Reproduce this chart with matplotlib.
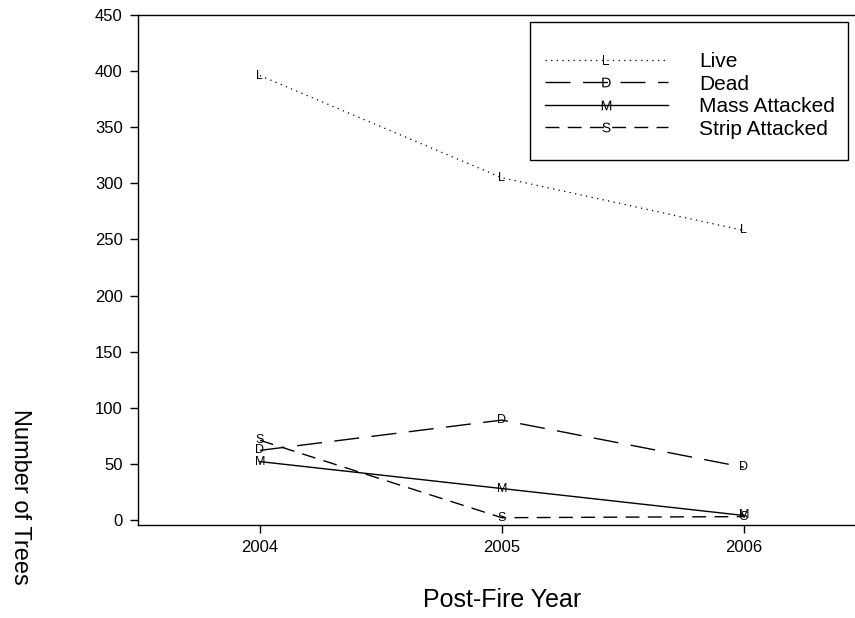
import matplotlib
matplotlib.use("Agg")
import matplotlib.pyplot as plt
from matplotlib.lines import Line2D
from matplotlib.patches import Rectangle

plt.rcParams['font.family'] = ['Liberation Sans', 'DejaVu Sans']
plt.rcParams['mathtext.fontset'] = 'custom'
plt.rcParams['mathtext.rm'] = 'Liberation Sans'

years = [2004, 2005, 2006]
live = [396, 305, 258]
dead = [62, 89, 47]
mass = [52, 28, 4]
strip = [71, 2, 3]
labels = ["Live", "Dead", "Mass Attacked", "Strip Attacked"]
letters = ["L", "D", "M", "S"]
yticks = [0, 50, 100, 150, 200, 250, 300, 350, 400, 450]

W, H = 855, 618
fig = plt.figure(figsize=(8.55, 6.18), dpi=100)
ax = fig.add_axes([138/W, 1-525/H, 1-138/W, (525-15)/H])

styles = [
    dict(linestyle=(0, (1, 3.5)), linewidth=0.9),
    dict(linestyle=(0, (18, 9)), linewidth=1.0),
    dict(linestyle='-', linewidth=1.0),
    dict(linestyle=(0, (10, 6)), linewidth=1.0),
]
series = [live, dead, mass, strip]

handles = []
for vals, st, lab, let in zip(series, styles, labels, letters):
    ax.plot(years, vals, color='black', **st)
    for x, y in zip(years, vals):
        ax.text(x, y, let, fontsize=9, ha='center', va='center', color='black')
    handles.append(Line2D([], [], color='black', marker=r'$\mathrm{%s}$' % let,
                          markersize=7, markeredgewidth=0, label=lab, **st))

ax.set_xlim(2003.496, 2006.46)
ax.set_ylim(-4.5, 450)
ax.set_xticks(years)
ax.set_xticklabels([str(y) for y in years])
ax.set_yticks(yticks)
ax.tick_params(axis='both', direction='out', length=6, width=1, labelsize=12, pad=5)
ax.spines['right'].set_visible(False)
for s in ['left', 'bottom', 'top']:
    ax.spines[s].set_linewidth(1.0)

# legend box
fig.patches.append(Rectangle((530/W, 1-160/H), (848-530)/W, (160-22)/H,
                             transform=fig.transFigure, fill=False,
                             edgecolor='black', linewidth=1.0))
leg = ax.legend(handles=handles, loc='upper left',
                bbox_to_anchor=(545/W, 1-52/H), bbox_transform=fig.transFigure,
                frameon=False, fontsize=15,
                borderpad=0, labelspacing=0.17, handlelength=5.9,
                handletextpad=1.5, borderaxespad=0)

fig.text(502/W, 1-600/H, "Post-Fire Year", fontsize=18, ha='center', va='center')
fig.text(20/W, 1-497/H, "Number of Trees", fontsize=17, ha='center', va='center',
         rotation=-90)

fig.savefig("out.png", dpi=100)
